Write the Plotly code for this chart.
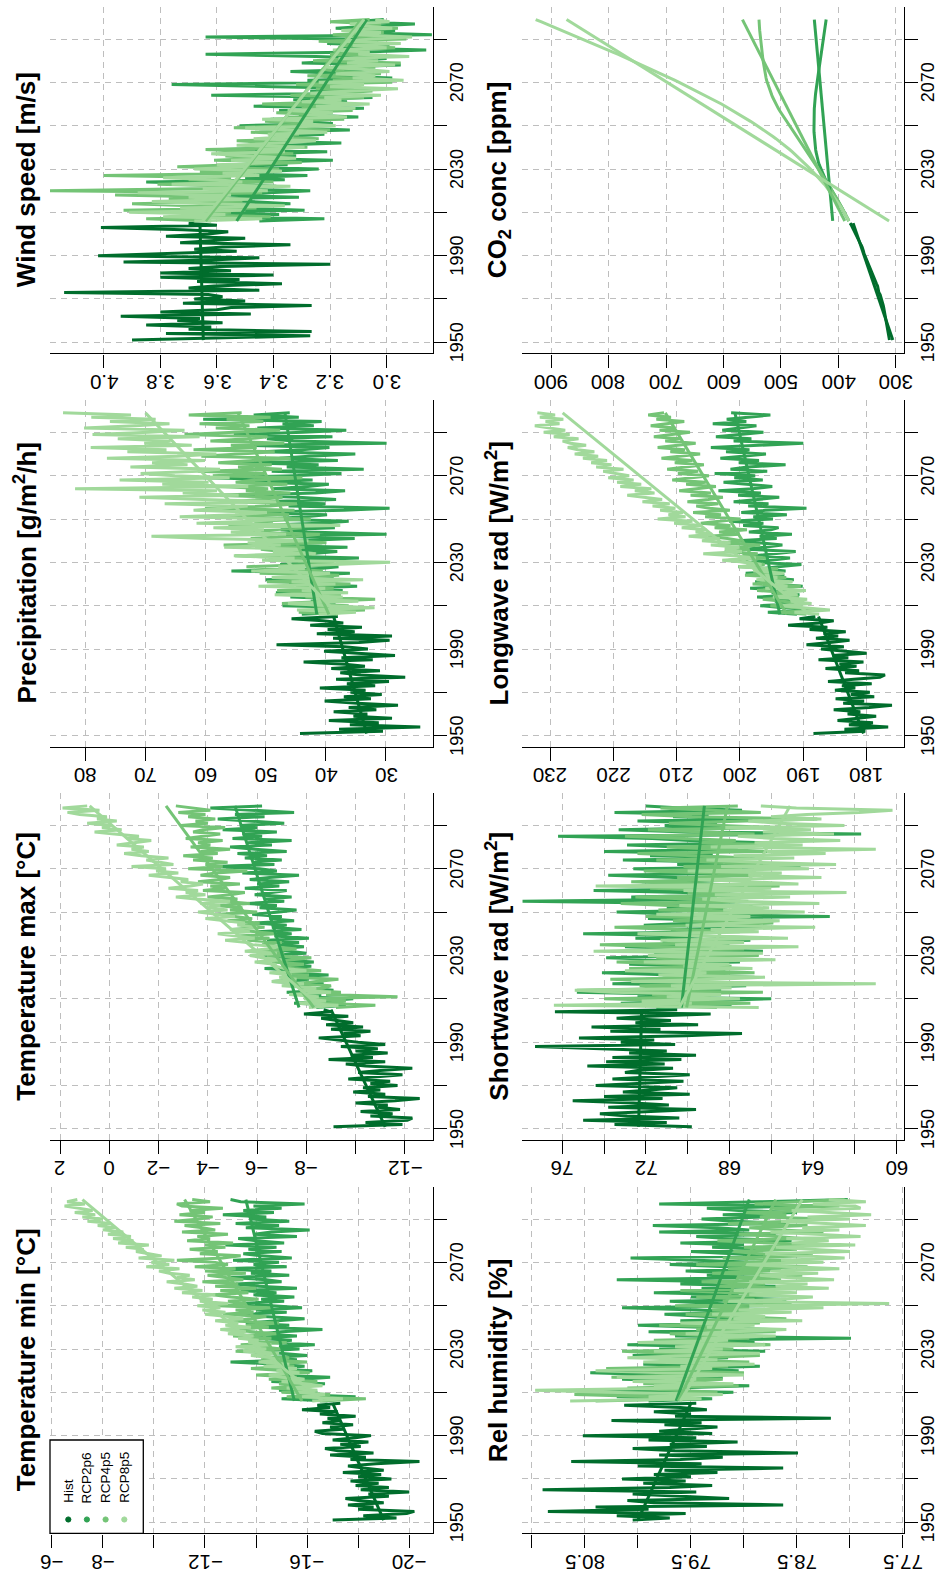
import plotly.graph_objects as go

W, H = 940, 1577
FONT = "Liberation Sans, Arial, Helvetica, sans-serif"

HIST_YEARS = list(range(1951, 2006))
RCP_YEARS = list(range(2006, 2100))
SCENARIOS = ["Hist", "RCP2p6", "RCP4p5", "RCP8p5"]
COLORS = ["#006D2C", "#31A354", "#74C476", "#A1D99B"]

YEAR_TICKS = [1950, 1970, 1990, 2010, 2030, 2050, 2070, 2090]
YEAR_LABELS = ["1950", "", "1990", "", "2030", "", "2070", ""]

# ---------------- Temperature min ----------------
tmin_hist = [-17.0, -19.5, -18.2, -19.9, -20.2, -18.0, -18.6, -17.6, -19.0, -18.0,
             -17.5, -19.2, -18.4, -20.0, -18.1, -19.2, -17.9, -18.8, -17.7, -19.3,
             -18.0, -18.9, -17.4, -19.0, -18.2, -17.6, -18.7, -20.4, -17.7, -18.3,
             -16.9, -18.6, -17.2, -16.7, -18.1, -17.3, -18.4, -17.0, -17.9, -18.5,
             -16.6, -16.3, -17.4, -16.9, -17.8, -16.6, -17.3, -16.8, -17.9, -16.5,
             -17.2, -15.8, -16.9, -16.4, -17.3]
tmin_rcp26 = [-16.8, -15.0, -17.9, -15.6, -16.4, -14.9, -16.0, -15.2, -16.7, -14.6,
              -15.8, -16.9, -14.7, -15.5, -16.2, -14.4, -15.9, -14.8, -13.0, -15.6,
              -14.3, -16.0, -15.1, -14.0, -15.7, -14.9, -16.3, -14.5, -15.4, -13.8,
              -15.6, -14.2, -15.0, -16.6, -14.1, -15.3, -13.6, -14.8, -15.9, -14.3,
              -13.5, -15.2, -14.0, -15.8, -14.6, -13.3, -15.1, -14.2, -15.5, -13.9,
              -14.8, -13.4, -15.6, -14.1, -13.2, -15.0, -14.4, -12.9, -15.3, -13.8,
              -14.6, -12.6, -15.2, -13.9, -14.9, -13.1, -15.4, -14.2, -13.5, -15.0,
              -13.7, -14.8, -12.8, -15.1, -14.0, -13.3, -15.6, -13.9, -14.6, -16.1,
              -13.6, -14.9, -13.2, -15.3, -13.8, -14.4, -12.7, -14.7, -13.5, -15.0,
              -13.9, -15.9, -13.4, -13.0]
tmin_rcp45 = [-16.5, -18.3, -15.2, -16.9, -15.0, -16.2, -14.6, -15.8, -14.9, -16.4,
              -14.5, -15.6, -14.0, -16.1, -15.2, -13.8, -15.5, -14.4, -16.0, -14.2,
              -15.3, -13.9, -14.8, -13.2, -15.0, -14.1, -13.4, -15.2, -13.7, -14.6,
              -13.1, -14.8, -13.9, -12.8, -14.5, -13.6, -14.9, -12.9, -13.8, -14.4,
              -12.7, -13.9, -13.2, -14.6, -12.5, -13.6, -12.9, -14.1, -13.0, -12.3,
              -13.7, -12.6, -14.0, -12.4, -13.3, -11.9, -13.5, -12.8, -12.1, -13.6,
              -12.0, -13.2, -11.6, -12.9, -12.4, -10.9, -12.7, -13.4, -11.8, -12.5,
              -11.4, -12.8, -12.0, -13.1, -11.3, -12.2, -11.7, -12.9, -11.1, -12.4,
              -11.9, -11.2, -12.6, -10.8, -11.8, -12.3, -11.0, -12.0, -11.4, -12.7,
              -11.1, -10.9, -12.2, -11.5]
tmin_rcp85 = [-16.2, -17.4, -15.8, -16.7, -15.5, -16.4, -15.2, -16.6, -15.9, -15.0,
              -15.9, -15.0, -14.5, -15.7, -14.8, -15.6, -14.3, -15.3, -14.1, -14.9,
              -14.6, -13.8, -14.9, -13.5, -14.4, -13.2, -14.6, -13.7, -14.1, -13.3,
              -13.9, -12.9, -13.6, -12.6, -13.8, -12.8, -13.3, -12.4, -13.5, -12.9,
              -12.0, -12.8, -11.9, -12.6, -11.7, -12.9, -11.8, -12.3, -11.5, -12.4,
              -11.1, -11.9, -10.8, -11.7, -11.2, -10.5, -11.6, -10.9, -11.4, -10.6,
              -10.2, -11.0, -9.7, -10.6, -9.9, -10.8, -9.4, -10.3, -9.8, -9.3,
              -9.6, -8.9, -9.8, -8.6, -9.2, -8.4, -9.1, -8.2, -8.8, -8.0,
              -8.5, -7.8, -8.3, -7.4, -8.0, -7.2, -7.7, -6.9, -7.6, -7.1,
              -6.5, -7.3, -6.6, -7.0]
tmin_trend_start = [-19.0, -15.5, -15.8, -16.6]
tmin_trend_end = [-17.0, -13.6, -11.2, -7.2]
tmin_ticks = [-6, -8, -10, -12, -14, -16, -18, -20]
tmin_labels = ["\u22126", "\u22128", "", "\u221212", "", "\u221216", "", "\u221220"]

# ---------------- Temperature max ----------------
tmax_hist = [-9.1, -11.9, -10.4, -12.1, -12.3, -10.6, -11.5, -10.2, -11.8, -10.9,
             -11.3, -10.0, -11.6, -12.6, -10.5, -11.2, -9.9, -11.0, -10.3, -11.7,
             -10.6, -11.4, -9.7, -10.8, -11.9, -10.1, -11.0, -12.3, -10.4, -9.6,
             -11.2, -8.9, -10.7, -9.8, -11.3, -10.0, -10.9, -9.4, -11.2, -10.1,
             -9.2, -8.5, -10.2, -9.5, -10.6, -9.0, -10.3, -8.8, -9.9, -9.3,
             -8.6, -9.7, -7.9, -9.0, -8.7]
tmax_rcp26 = [-8.4, -9.6, -7.5, -8.8, -9.9, -7.9, -8.6, -7.2, -9.1, -8.0,
              -7.4, -8.7, -6.6, -8.1, -7.0, -8.9, -6.9, -7.8, -6.3, -8.2,
              -7.1, -8.3, -6.8, -7.6, -6.2, -8.0, -7.3, -6.5, -7.9, -6.9,
              -7.7, -6.4, -8.1, -6.7, -7.4, -6.0, -7.8, -6.6, -7.2, -5.9,
              -7.5, -6.5, -7.0, -5.8, -6.9, -7.6, -6.1, -6.8, -5.6, -7.1,
              -6.3, -7.4, -5.9, -6.6, -7.2, -5.5, -6.9, -6.0, -7.3, -5.7,
              -6.5, -7.7, -5.4, -6.8, -6.1, -4.2, -6.7, -5.8, -7.0, -5.5,
              -6.4, -5.2, -7.2, -5.9, -4.9, -6.6, -5.6, -7.4, -5.0, -6.2,
              -5.4, -6.8, -4.6, -6.0, -5.3, -7.1, -5.7, -4.4, -6.3, -5.1,
              -7.5, -5.8, -4.1, -6.2]
tmax_rcp45 = [-9.2, -10.8, -8.5, -9.6, -8.0, -11.7, -8.8, -9.4, -7.9, -8.7,
              -9.0, -7.6, -8.4, -9.3, -7.3, -8.1, -6.8, -8.6, -7.5, -7.0,
              -7.9, -6.6, -7.4, -8.2, -6.4, -7.1, -5.9, -7.6, -6.7, -6.2,
              -7.0, -5.6, -6.5, -5.2, -6.8, -5.9, -4.9, -6.3, -5.5, -6.1,
              -4.8, -5.8, -5.1, -4.4, -6.0, -4.9, -5.4, -4.3, -5.7, -4.6,
              -5.2, -4.0, -4.9, -5.5, -3.8, -4.7, -4.1, -5.3, -3.6, -4.5,
              -4.9, -3.7, -4.3, -5.6, -3.2, -4.6, -3.9, -4.8, -3.4, -4.2,
              -3.0, -4.4, -3.7, -4.9, -3.3, -4.1, -3.6, -4.6, -3.1, -3.9,
              -4.5, -3.4, -3.8, -4.7, -2.9, -4.0, -3.5, -4.3, -3.2, -3.9,
              -2.8, -4.1, -3.3, -2.7]
tmax_rcp85 = [-8.1, -9.3, -7.6, -8.8, -7.9, -8.5, -7.3, -9.0, -7.8, -8.4,
              -7.0, -7.9, -6.6, -7.6, -6.9, -7.4, -6.5, -8.0, -7.1, -6.8,
              -6.7, -5.9, -7.0, -6.2, -5.7, -6.8, -5.5, -6.4, -6.9, -5.8,
              -5.6, -4.7, -5.9, -5.0, -4.4, -5.7, -4.9, -6.0, -5.2, -5.5,
              -4.6, -3.9, -5.1, -4.2, -3.6, -4.8, -4.0, -4.5, -3.7, -4.9,
              -3.5, -2.7, -3.9, -3.1, -3.6, -2.4, -3.3, -3.8, -2.9, -3.2,
              -2.5, -1.6, -2.8, -1.9, -2.3, -0.9, -2.6, -2.0, -1.5, -2.4,
              -1.3, -0.6, -1.6, -0.9, -1.4, -0.3, -1.1, -1.7, -0.7, -1.2,
              -0.2, 0.6, -0.5, 0.3, -0.1, 0.9, -0.3, 0.5, 0.1, 1.2,
              1.7, 0.4, 1.9, 0.9]
tmax_trend_start = [-11.2, -7.7, -8.3, -8.6]
tmax_trend_end = [-9.0, -5.1, -2.3, 0.8]
tmax_ticks = [2, 0, -2, -4, -6, -8, -10, -12]
tmax_labels = ["2", "0", "\u22122", "\u22124", "\u22126", "\u22128", "", "\u221212"]

# ---------------- Precipitation ----------------
prec_hist = [44.3, 30.5, 37.8, 24.3, 36.0, 31.2, 39.5, 29.0, 35.4, 33.1,
             38.7, 31.6, 36.2, 28.0, 34.8, 40.2, 32.5, 37.0, 30.7, 35.9,
             33.4, 41.0, 31.8, 36.5, 29.5, 38.3, 26.8, 34.2, 37.6, 31.0,
             39.1, 33.5, 36.8, 43.7, 32.2, 37.4, 28.5, 35.6, 40.3, 33.0,
             36.9, 48.2, 34.5, 29.4, 38.8, 29.0, 41.5, 35.2, 39.7, 34.0,
             42.6, 37.1, 40.5, 45.7, 38.0]
prec_rcp26 = [44.0, 36.5, 40.8, 33.9, 47.2, 38.4, 42.5, 35.7, 45.9, 39.0,
              48.3, 37.2, 43.6, 34.8, 46.1, 40.3, 50.0, 38.7, 44.2, 36.0,
              55.7, 41.4, 37.9, 47.6, 39.2, 45.0, 34.5, 49.1, 42.7, 38.1,
              46.8, 36.4, 51.2, 40.6, 44.9, 35.2, 48.0, 29.9, 43.1, 47.5,
              38.5, 52.3, 41.0, 36.2, 49.4, 43.5, 39.8, 53.1, 37.0, 29.4,
              46.2, 40.1, 50.7, 38.3, 44.6, 55.0, 41.7, 36.8, 48.9, 43.0,
              39.5, 51.8, 42.2, 60.4, 45.3, 37.4, 49.0, 33.7, 46.5, 41.2,
              54.0, 38.0, 47.7, 42.8, 35.1, 50.5, 44.0, 39.4, 52.6, 29.9,
              45.4, 49.8, 38.9, 55.3, 43.8, 36.6, 51.4, 42.0, 47.2, 40.7,
              60.4, 44.5, 52.0, 46.0]
prec_rcp45 = [38.0, 44.5, 33.5, 41.9, 36.2, 47.3, 39.8, 31.8, 43.4, 37.5,
              42.6, 48.1, 38.7, 45.0, 35.9, 49.8, 41.3, 44.7, 37.8, 51.0,
              40.5, 46.3, 53.2, 42.1, 38.6, 49.5, 44.0, 55.1, 41.6, 47.4,
              50.8, 43.2, 57.0, 39.9, 46.7, 52.5, 44.4, 41.0, 54.3, 47.9,
              43.6, 56.2, 48.8, 51.9, 42.5, 58.0, 46.1, 53.7, 45.2, 60.1,
              49.3, 44.8, 55.6, 51.0, 47.2, 59.4, 45.9, 53.3, 49.6, 57.5,
              46.4, 55.0, 51.7, 43.9, 58.8, 50.2, 61.3, 47.3, 54.6, 49.0,
              57.9, 52.1, 45.6, 60.7, 53.4, 48.5, 62.0, 51.5, 55.8, 46.9,
              59.2, 53.0, 49.7, 63.5, 55.2, 47.6, 58.3, 52.7, 61.0, 50.4,
              56.5, 49.2, 62.8, 54.0]
prec_rcp85 = [41.2, 35.0, 44.8, 31.9, 39.5, 46.3, 34.6, 42.0, 37.2, 48.5,
              36.3, 44.0, 40.1, 51.2, 38.4, 45.7, 33.8, 49.0, 42.6, 39.3,
              52.4, 43.5, 47.9, 38.8, 29.3, 50.6, 45.2, 55.3, 41.7, 48.8,
              44.1, 56.9, 47.5, 53.0, 42.9, 60.2, 69.0, 46.6, 55.8, 50.3,
              58.7, 37.6, 61.5, 52.6, 47.0, 64.3, 55.1, 49.8, 62.0, 57.4,
              53.0, 66.8, 48.2, 60.5, 71.0, 54.5, 63.8, 58.1, 81.7, 52.9,
              67.2, 59.5, 74.3, 56.0, 65.1, 70.8, 61.2, 57.6, 72.5, 63.0,
              68.9, 60.1, 76.4, 64.7, 58.2, 73.0, 66.5, 79.1, 62.3, 70.2,
              65.8, 74.6, 61.0, 78.8, 69.4, 63.5, 80.2, 71.7, 66.0, 75.9,
              68.3, 79.0, 72.4, 83.7]
prec_trend_start = [33.2, 41.5, 39.5, 38.0]
prec_trend_end = [38.7, 46.8, 54.6, 70.0]
prec_ticks = [80, 70, 60, 50, 40, 30]
prec_labels = ["80", "70", "60", "50", "40", "30"]

# ---------------- Wind speed ----------------
wind_hist = [3.90, 3.55, 3.27, 3.78, 3.265, 3.70, 3.62, 3.85, 3.58, 3.74,
             3.66, 3.94, 3.48, 3.80, 3.60, 3.55, 3.265, 3.72, 3.50, 3.68,
             3.58, 3.63, 4.14, 3.45, 3.70, 3.61, 3.37, 3.67, 3.52, 3.80,
             3.40, 3.80, 3.55, 3.70, 3.59, 3.20, 3.93, 3.62, 3.45, 4.02,
             3.75, 3.53, 3.68, 3.58, 3.34, 3.73, 3.61, 3.50, 3.78, 3.63,
             3.56, 3.72, 4.01, 3.60, 3.70]
wind_rcp26 = [3.45, 3.22, 3.61, 3.38, 3.70, 3.29, 3.52, 3.66, 3.34, 3.48,
              3.75, 3.31, 3.58, 3.42, 3.27, 3.64, 3.39, 3.55, 3.85, 3.36,
              3.50, 3.28, 3.62, 3.41, 3.24, 3.57, 3.35, 3.46, 3.19, 3.53,
              3.32, 3.44, 3.21, 3.58, 3.30, 3.40, 3.16, 3.49, 3.27, 3.36,
              3.22, 3.45, 3.13, 3.34, 3.52, 3.19, 3.29, 3.41, 3.10, 3.31,
              3.24, 3.38, 3.08, 3.47, 3.20, 3.14, 3.33, 3.05, 3.62, 3.18,
              3.27, 3.02, 3.40, 3.76, 3.15, 3.28, 2.98, 3.22, 3.11, 3.34,
              3.06, 3.19, 2.95, 3.30, 3.12, 3.00, 3.25, 3.64, 3.08, 2.86,
              3.17, 2.99, 3.21, 3.03, 3.14, 3.64, 2.84, 3.10, 2.97, 3.18,
              3.05, 2.90, 3.12, 3.01]
wind_rcp45 = [3.62, 3.85, 3.41, 3.72, 3.55, 3.93, 3.46, 3.68, 3.90, 3.51,
              3.77, 3.58, 3.96, 3.44, 4.19, 3.63, 3.52, 3.81, 3.40, 3.70,
              3.55, 4.00, 3.47, 3.66, 3.38, 3.74, 3.52, 3.30, 3.61, 3.43,
              3.57, 3.33, 3.49, 3.64, 3.28, 3.45, 3.36, 3.53, 3.24, 3.40,
              3.31, 3.48, 3.20, 3.54, 3.37, 3.26, 3.43, 3.15, 3.35, 3.22,
              3.39, 3.12, 3.30, 3.21, 3.44, 3.16, 3.27, 3.08, 3.34, 3.18,
              3.05, 3.25, 3.13, 3.32, 2.98, 3.19, 3.09, 3.28, 3.02, 3.15,
              3.23, 3.04, 3.17, 2.95, 3.26, 3.10, 3.00, 3.20, 3.07, 3.13,
              2.97, 3.16, 3.04, 3.24, 2.93, 3.09, 3.19, 3.01, 3.14, 2.96,
              3.11, 3.02, 3.20, 3.06]
wind_rcp85 = [3.68, 3.44, 3.79, 3.57, 3.91, 3.50, 3.73, 3.36, 3.64, 3.83,
              3.48, 3.70, 3.55, 3.88, 3.42, 3.65, 3.34, 3.76, 3.51, 3.60,
              3.79, 3.45, 3.58, 3.37, 3.68, 3.49, 3.60, 3.40, 3.55, 3.32,
              3.50, 3.62, 3.36, 3.45, 3.29, 3.53, 3.38, 3.25, 3.47, 3.33,
              3.42, 3.21, 3.36, 3.50, 3.18, 3.31, 3.26, 3.44, 3.14, 3.29,
              3.19, 3.35, 3.11, 3.25, 3.06, 3.30, 3.16, 3.22, 3.02, 3.27,
              3.13, 2.96, 3.20, 3.08, 3.24, 2.94, 3.12, 3.04, 3.18, 2.99,
              3.09, 3.21, 2.97, 3.14, 3.03, 3.17, 2.92, 3.10, 3.06, 3.19,
              3.00, 3.12, 2.95, 3.15, 3.05, 2.91, 3.11, 3.02, 3.16, 2.98,
              3.08, 3.13, 2.99, 3.04]
wind_trend_start = [3.648, 3.53, 3.64, 3.65]
wind_trend_end = [3.66, 3.07, 3.09, 3.08]
wind_ticks = [4.0, 3.8, 3.6, 3.4, 3.2, 3.0]
wind_labels = ["4.0", "3.8", "3.6", "3.4", "3.2", "3.0"]

# ---------------- CO2 concentration ----------------
co2_hist = [311.3, 311.9, 312.4, 313.0, 313.6, 314.2, 314.9, 315.3, 315.8, 316.9,
            317.6, 318.4, 318.9, 319.5, 320.0, 321.3, 322.1, 323.1, 324.6, 325.7,
            326.3, 327.5, 329.7, 330.2, 331.1, 332.0, 333.8, 335.4, 336.8, 338.7,
            340.1, 341.1, 342.8, 344.4, 345.9, 347.2, 349.0, 351.4, 352.9, 354.2,
            355.6, 356.4, 357.1, 358.8, 360.8, 362.6, 363.7, 366.7, 368.4, 369.6,
            371.1, 373.2, 375.8, 377.5, 379.8]
co2_rcp26 = [381.9, 383.7, 385.5, 387.3, 389.1, 391.4, 393.7, 396.0, 398.3, 400.6,
             402.9, 405.2, 407.5, 409.8, 412.1, 414.2, 416.3, 418.3, 420.3, 422.2,
             424.0, 425.8, 427.5, 429.2, 430.8, 432.2, 433.5, 434.7, 435.8, 436.8,
             437.7, 438.4, 439.1, 439.7, 440.2, 440.7, 441.1, 441.5, 441.8, 442.1,
             442.3, 442.5, 442.6, 442.7, 442.7, 442.7, 442.6, 442.5, 442.4, 442.3,
             442.2, 442.1, 442.0, 441.9, 441.7, 441.3, 440.9, 440.5, 440.1, 439.7,
             439.3, 438.8, 438.4, 437.9, 437.5, 436.9, 436.3, 435.7, 435.1, 434.5,
             433.9, 433.4, 432.8, 432.2, 431.6, 431.0, 430.5, 429.9, 429.4, 428.8,
             428.2, 427.7, 427.1, 426.6, 426.0, 425.5, 425.0, 424.5, 424.0, 423.4,
             422.9, 422.4, 421.9, 421.4]
co2_rcp45 = [381.9, 383.8, 385.6, 387.5, 389.3, 391.4, 393.5, 395.6, 397.7, 399.9,
             402.1, 404.3, 406.5, 408.8, 411.1, 413.4, 415.7, 418.1, 420.4, 422.8,
             425.2, 427.6, 430.0, 432.5, 435.0, 437.5, 440.1, 442.7, 445.3, 447.9,
             450.5, 453.1, 455.6, 458.2, 460.8, 463.4, 466.0, 468.6, 471.2, 473.7,
             476.3, 478.9, 481.4, 484.0, 486.5, 488.9, 491.3, 493.6, 495.9, 498.1,
             500.3, 502.5, 504.7, 506.8, 508.9, 510.7, 512.5, 514.2, 515.8, 517.3,
             518.8, 520.2, 521.6, 523.0, 524.3, 525.1, 525.9, 526.7, 527.4, 528.1,
             528.8, 529.4, 530.0, 530.6, 531.1, 531.6, 532.1, 532.6, 533.1, 533.6,
             534.1, 534.5, 535.0, 535.5, 535.9, 536.2, 536.5, 536.8, 537.0, 537.3,
             537.6, 537.8, 538.0, 538.2]
co2_rcp85 = [381.9, 383.8, 385.6, 387.4, 389.3, 391.8, 394.3, 396.9, 399.5, 402.1,
             404.7, 407.4, 410.2, 413.0, 415.8, 418.7, 421.7, 424.8, 428.0, 431.2,
             434.5, 437.9, 441.4, 445.1, 448.8, 452.6, 456.4, 460.3, 464.3, 468.3,
             472.4, 476.5, 480.7, 485.0, 489.4, 494.1, 498.9, 503.8, 508.8, 514.0,
             519.2, 524.6, 530.0, 535.6, 541.2, 547.1, 553.0, 559.0, 565.1, 571.4,
             577.6, 584.0, 590.4, 596.9, 603.5, 610.6, 617.8, 625.0, 632.3, 639.7,
             647.1, 654.6, 662.1, 669.6, 677.1, 685.1, 693.1, 701.1, 709.2, 717.3,
             725.4, 733.5, 741.7, 749.9, 758.2, 766.7, 775.3, 783.9, 792.5, 801.2,
             809.9, 818.6, 827.3, 836.0, 844.8, 853.8, 862.9, 872.0, 881.1, 890.2,
             899.3, 908.4, 917.6, 926.7]
co2_trend_start = [305.5, 410.0, 389.0, 312.0]
co2_trend_end = [374.5, 442.0, 567.0, 873.0]
co2_ticks = [900, 800, 700, 600, 500, 400, 300]
co2_labels = ["900", "800", "700", "600", "500", "400", "300"]

# ---------------- Longwave radiation ----------------
lw_hist = [188.4, 180.2, 183.5, 176.6, 182.8, 179.0, 184.6, 181.3, 178.5, 183.0,
           181.0, 185.2, 179.6, 176.0, 183.7, 180.4, 184.9, 178.8, 182.5, 179.5,
           185.0, 181.8, 183.9, 179.2, 186.1, 182.0, 177.9, 177.1, 183.4, 181.2,
           186.5, 181.6, 184.3, 180.5, 187.6, 182.9, 185.4, 180.0, 184.0, 187.2,
           183.6, 189.5, 185.8, 182.7, 188.0, 184.5, 186.8, 183.3, 189.0, 186.2,
           192.4, 187.5, 185.2, 190.6, 188.1]
lw_rcp26 = [191.0, 195.6, 187.5, 193.2, 196.8, 189.9, 194.5, 191.7, 197.3, 190.6,
            195.0, 192.3, 198.4, 190.1, 194.9, 197.6, 191.5, 196.2, 193.0, 199.1,
            192.8, 196.5, 194.0, 190.3, 198.2, 195.4, 192.1, 197.8, 194.6, 191.2,
            199.0, 195.8, 193.3, 197.0, 200.4, 194.2, 196.9, 191.8, 198.6, 195.1,
            193.9, 199.5, 196.3, 201.7, 194.8, 197.9, 192.6, 199.8, 196.0, 189.5,
            198.7, 195.5, 201.0, 197.2, 193.8, 200.3, 196.7, 203.4, 198.0, 194.9,
            199.4, 202.6, 196.4, 200.9, 197.6, 204.0, 195.7, 201.5, 198.8, 192.8,
            200.2, 197.0, 203.1, 199.3, 195.9, 202.2, 198.5, 204.6, 196.6, 190.0,
            201.0, 198.2, 203.8, 199.7, 196.3, 202.8, 200.0, 197.4, 204.3, 199.0,
            202.1, 198.6, 195.2, 201.4]
lw_rcp45 = [189.5, 193.8, 187.0, 191.6, 195.2, 189.8, 193.5, 196.4, 190.7, 194.6,
            192.0, 197.3, 193.5, 190.4, 198.0, 194.3, 196.8, 192.7, 199.2, 195.5,
            197.4, 194.0, 200.3, 196.1, 198.9, 201.8, 195.9, 199.6, 197.2, 202.4,
            198.5, 201.2, 196.8, 203.5, 199.8, 202.0, 205.1, 200.1, 203.3, 198.9,
            204.0, 201.5, 206.2, 202.8, 199.9, 205.5, 203.0, 207.4, 201.6, 204.8,
            206.9, 203.4, 208.3, 205.0, 202.7, 207.8, 204.6, 209.6, 206.1, 203.8,
            208.5, 205.4, 210.7, 207.2, 204.9, 209.8, 206.6, 211.5, 208.0, 205.7,
            210.3, 207.5, 212.4, 209.1, 206.3, 211.0, 208.7, 213.0, 210.1, 207.0,
            211.8, 209.4, 213.6, 210.6, 207.9, 212.7, 210.2, 214.1, 211.3, 208.8,
            213.2, 210.9, 214.5, 212.0]
lw_rcp85 = [187.5, 191.4, 185.8, 190.2, 193.6, 188.7, 192.0, 189.4, 194.8, 190.9,
            193.2, 189.6, 196.0, 192.5, 195.3, 191.7, 197.4, 194.1, 196.8, 193.0,
            197.9, 195.4, 200.2, 196.6, 199.1, 202.8, 197.5, 201.0, 205.8, 199.7,
            202.4, 200.1, 204.6, 201.5, 206.0, 203.2, 208.1, 204.4, 207.0, 205.3,
            209.2, 206.1, 210.4, 207.5, 213.0, 208.6, 211.3, 209.0, 212.6, 210.2,
            213.8, 211.1, 215.4, 212.3, 214.7, 217.8, 213.5, 216.6, 214.0, 218.9,
            215.6, 219.4, 216.8, 220.8, 217.5, 219.9, 221.6, 218.4, 222.7, 220.3,
            223.5, 221.0, 224.8, 222.4, 226.1, 223.0, 225.6, 227.2, 224.3, 226.8,
            228.0, 225.5, 229.4, 226.9, 231.0, 227.6, 229.8, 232.4, 228.5, 230.7,
            227.9, 231.6, 229.2, 232.0]
lw_trend_start = [180.5, 193.7, 192.6, 189.0]
lw_trend_end = [187.6, 200.8, 211.8, 228.0]
lw_ticks = [230, 220, 210, 200, 190, 180]
lw_labels = ["230", "220", "210", "200", "190", "180"]

# ---------------- Shortwave radiation ----------------
sw_hist = [69.8, 73.5, 71.0, 75.0, 70.4, 72.9, 74.2, 71.5, 69.6, 73.8,
           70.9, 72.6, 75.5, 71.2, 74.0, 69.9, 73.1, 71.8, 70.5, 74.4,
           72.0, 70.2, 73.6, 71.4, 69.9, 73.0, 72.4, 70.7, 74.8, 71.1,
           73.9, 70.3, 73.6, 69.6, 72.8, 71.0, 74.5, 77.3, 70.6, 73.2,
           71.6, 75.2, 70.1, 67.4, 73.7, 71.3, 74.6, 69.5, 72.5, 70.8,
           73.4, 71.9, 68.9, 76.35, 70.5]
sw_rcp26 = [71.5, 67.9, 73.2, 69.0, 66.0, 72.4, 70.1, 75.3, 68.4, 71.0,
            67.2, 73.6, 69.5, 72.0, 66.8, 70.7, 74.1, 68.2, 71.4, 69.0,
            72.8, 67.5, 70.3, 73.9, 68.7, 71.6, 66.4, 70.0, 73.0, 68.0,
            71.2, 67.0, 72.5, 69.3, 75.0, 68.5, 70.8, 66.2, 72.1, 69.6,
            67.7, 71.9, 63.2, 70.4, 73.4, 68.1, 71.0, 66.9, 69.8, 77.9,
            68.6, 72.7, 67.3, 70.2, 74.5, 66.5, 71.3, 68.9, 72.2, 67.8,
            70.9, 73.8, 67.1, 69.7, 72.6, 64.6, 70.5, 68.3, 73.1, 66.7,
            71.8, 68.8, 74.0, 67.6, 70.6, 72.9, 66.3, 69.9, 71.7, 76.2,
            61.7, 70.0, 73.3, 67.9, 71.1, 68.6, 72.4, 66.9, 70.7, 69.0,
            73.5, 67.4, 70.3, 72.0]
sw_rcp45 = [68.6, 72.9, 67.0, 70.8, 74.0, 68.9, 71.7, 66.4, 75.3, 69.4,
            72.3, 67.6, 70.9, 73.7, 68.1, 71.2, 66.8, 70.3, 72.8, 67.9,
            70.6, 73.4, 68.3, 71.5, 66.6, 69.8, 72.6, 67.3, 70.4, 74.2,
            68.0, 71.0, 66.1, 69.5, 72.3, 67.5, 70.1, 73.5, 68.7, 65.9,
            70.7, 67.9, 72.0, 69.1, 66.4, 71.4, 68.2, 70.9, 73.2, 67.1,
            69.6, 72.5, 66.9, 70.0, 67.8, 71.8, 65.6, 69.3, 72.7, 68.0,
            70.5, 66.7, 69.0, 72.1, 67.4, 70.2, 64.8, 68.6, 71.5, 67.0,
            69.7, 72.4, 66.2, 68.9, 71.0, 65.4, 69.4, 67.7, 70.6, 73.0,
            66.8, 69.2, 71.9, 65.9, 68.5, 70.9, 67.2, 63.8, 69.8, 72.2,
            66.5, 68.7, 71.3, 67.6]
sw_rcp85 = [66.6, 76.4, 69.8, 72.2, 67.5, 71.0, 68.4, 73.6, 75.4, 67.9,
            70.8, 61.0, 72.7, 68.6, 66.3, 71.4, 69.1, 73.0, 66.9, 70.2,
            68.0, 72.1, 65.8, 69.5, 71.9, 66.4, 74.5, 68.8, 64.7, 70.6,
            67.3, 71.3, 65.2, 69.0, 72.4, 66.6, 68.9, 63.9, 70.1, 67.5,
            65.6, 69.8, 67.0, 71.5, 64.4, 68.3, 66.1, 70.4, 63.7, 67.9,
            69.3, 65.1, 68.7, 62.4, 70.2, 66.0, 74.4, 64.7, 67.6, 69.5,
            63.6, 67.1, 65.5, 70.0, 64.2, 68.4, 62.9, 66.7, 69.1, 64.9,
            67.8, 63.4, 66.2, 61.0, 68.9, 64.5, 66.8, 62.7, 65.9, 67.6,
            63.0, 66.4, 64.1, 68.2, 62.5, 65.7, 67.1, 63.6, 66.0, 64.3,
            61.8, 60.2, 64.8, 66.5]
sw_trend_start = [72.35, 70.3, 70.05, 70.4]
sw_trend_end = [72.2, 69.2, 68.1, 65.1]
sw_ticks = [76, 74, 72, 70, 68, 66, 64, 62, 60]
sw_labels = ["76", "", "72", "", "68", "", "64", "", "60"]

# ---------------- Relative humidity ----------------
rh_hist = [80.05, 79.70, 80.20, 79.55, 80.85, 79.90, 80.40, 78.63, 79.85, 80.10,
           79.14, 79.60, 80.05, 79.45, 80.90, 79.70, 79.30, 79.95, 79.55, 80.15,
           79.50, 79.85, 79.25, 79.75, 78.63, 80.00, 79.40, 80.63, 79.60, 79.20,
           79.80, 78.49, 79.65, 80.05, 79.35, 79.70, 79.06, 79.90, 79.45, 80.52,
           79.30, 79.80, 79.55, 79.25, 79.75, 79.40, 80.25, 78.18, 79.65, 79.50,
           79.85, 79.35, 79.60, 80.13, 79.45]
rh_rcp26 = [79.90, 79.30, 80.20, 79.55, 79.10, 80.35, 79.70, 78.95, 79.85, 79.40,
            80.15, 79.20, 79.75, 80.45, 79.05, 79.60, 78.85, 79.95, 79.35, 79.70,
            79.15, 80.05, 79.50, 78.80, 79.80, 79.25, 80.10, 78.90, 79.55, 77.99,
            79.65, 79.10, 79.90, 78.75, 79.40, 80.00, 79.05, 79.60, 78.70, 79.35,
            79.75, 78.95, 79.45, 80.15, 78.80, 79.30, 79.70, 78.60, 79.50, 79.05,
            79.85, 78.90, 79.40, 78.70, 79.60, 79.15, 80.20, 78.85, 79.35, 79.00,
            79.55, 78.65, 79.25, 79.70, 78.90, 79.40, 80.07, 78.75, 79.20, 79.50,
            78.80, 79.30, 79.00, 79.60, 78.55, 79.15, 79.45, 78.70, 79.80, 78.95,
            79.25, 79.86, 78.60, 79.10, 79.40, 78.75, 79.20, 78.50, 79.05, 79.35,
            78.40, 79.80, 78.85, 78.02]
rh_rcp45 = [80.40, 79.45, 79.85, 80.60, 79.25, 79.75, 80.10, 79.05, 79.95, 79.50,
            79.20, 80.25, 79.60, 79.00, 79.90, 80.30, 79.15, 79.55, 78.95, 79.80,
            79.40, 78.85, 79.75, 80.15, 79.10, 79.50, 78.75, 79.30, 79.85, 78.95,
            79.25, 79.70, 78.70, 79.45, 79.05, 79.80, 78.85, 79.35, 78.60, 79.15,
            79.55, 78.75, 79.30, 78.95, 79.65, 78.55, 79.20, 78.90, 79.45, 78.70,
            79.10, 79.60, 78.50, 79.25, 78.80, 79.40, 78.65, 79.05, 78.45, 79.30,
            78.75, 79.15, 78.40, 79.45, 78.90, 78.55, 79.20, 78.35, 78.85, 79.10,
            78.50, 79.00, 78.30, 78.80, 79.25, 78.45, 78.70, 79.05, 78.25, 78.65,
            78.95, 78.40, 79.15, 78.55, 78.20, 78.85, 78.60, 79.00, 78.30, 78.75,
            78.10, 78.90, 78.45, 78.05]
rh_rcp85 = [80.64, 79.40, 79.90, 79.20, 80.30, 80.97, 79.55, 79.85, 79.10, 80.05,
            79.45, 80.20, 79.00, 79.70, 80.40, 79.30, 79.60, 78.90, 79.95, 79.25,
            80.10, 79.50, 78.85, 79.85, 79.20, 79.65, 78.80, 80.00, 79.15, 79.40,
            78.70, 79.55, 79.00, 78.60, 79.35, 78.90, 79.60, 78.45, 79.10, 78.80,
            79.30, 78.55, 79.05, 78.25, 78.95, 77.63, 79.15, 78.65, 78.35, 78.95,
            78.50, 79.10, 78.20, 78.70, 78.40, 78.95, 78.15, 78.60, 78.85, 78.30,
            78.75, 78.10, 78.55, 79.00, 78.25, 78.65, 78.05, 78.45, 78.80, 78.00,
            78.40, 78.70, 77.95, 78.55, 78.20, 78.60, 77.90, 78.35, 78.75, 78.10,
            78.45, 77.85, 78.30, 78.65, 78.00, 78.40, 77.80, 78.25, 78.55, 77.90,
            77.95, 78.35, 77.85, 78.20]
rh_trend_start = [80.0, 79.64, 79.62, 79.60]
rh_trend_end = [79.5, 78.95, 78.70, 78.45]
rh_ticks = [81.0, 80.5, 80.0, 79.5, 79.0, 78.5, 78.0, 77.5]
rh_labels = ["", "80.5", "", "79.5", "", "78.5", "", "77.5"]

# ---------------- layout (pixels of the 940 x 1577 page) ----------------
COL_X = [(50.0, 433.0), (521.7, 904.0)]
ROW_Y = [(7.0, 353.3), (400.3, 746.7), (793.3, 1140.0), (1187.0, 1533.3)]
TITLE_X = [26.0, 498.0]
YEAR_RANGE = [1944.9, 2104.8]
VALUE_LABEL_GAP = 29.0   # axis line -> centre of the value labels
YEAR_LABEL_GAP = 24.0    # axis line -> centre of the year labels

PANELS = [
    dict(title="Wind speed [m/s]", series=[wind_hist, wind_rcp26, wind_rcp45, wind_rcp85],
         t0=wind_trend_start, t1=wind_trend_end, ticks=wind_ticks, labels=wind_labels,
         xr=[4.19, 2.836], col=0, row=0),
    dict(title="CO<sub>2</sub> conc [ppm]", series=[co2_hist, co2_rcp26, co2_rcp45, co2_rcp85],
         t0=co2_trend_start, t1=co2_trend_end, ticks=co2_ticks, labels=co2_labels,
         xr=[951.0, 286.0], col=1, row=0),
    dict(title="Precipitation [g/m<sup>2</sup>/h]", series=[prec_hist, prec_rcp26, prec_rcp45, prec_rcp85],
         t0=prec_trend_start, t1=prec_trend_end, ticks=prec_ticks, labels=prec_labels,
         xr=[85.87, 22.18], col=0, row=1),
    dict(title="Longwave rad [W/m<sup>2</sup>]", series=[lw_hist, lw_rcp26, lw_rcp45, lw_rcp85],
         t0=lw_trend_start, t1=lw_trend_end, ticks=lw_ticks, labels=lw_labels,
         xr=[234.47, 174.1], col=1, row=1),
    dict(title="Temperature max [\u00b0C]", series=[tmax_hist, tmax_rcp26, tmax_rcp45, tmax_rcp85],
         t0=tmax_trend_start, t1=tmax_trend_end, ticks=tmax_ticks, labels=tmax_labels,
         xr=[2.41, -13.14], col=0, row=2),
    dict(title="Shortwave rad [W/m<sup>2</sup>]", series=[sw_hist, sw_rcp26, sw_rcp45, sw_rcp85],
         t0=sw_trend_start, t1=sw_trend_end, ticks=sw_ticks, labels=sw_labels,
         xr=[77.94, 59.65], col=1, row=2),
    dict(title="Temperature min [\u00b0C]", series=[tmin_hist, tmin_rcp26, tmin_rcp45, tmin_rcp85],
         t0=tmin_trend_start, t1=tmin_trend_end, ticks=tmin_ticks, labels=tmin_labels,
         xr=[-5.93, -20.93], col=0, row=3),
    dict(title="Rel humidity [%]", series=[rh_hist, rh_rcp26, rh_rcp45, rh_rcp85],
         t0=rh_trend_start, t1=rh_trend_end, ticks=rh_ticks, labels=rh_labels,
         xr=[81.097, 77.49], col=1, row=3),
]


def px_x(px):
    return px / W


def px_y(py):
    return 1 - py / H


fig = go.Figure()
annotations = []
shapes = []
layout = {}

axis_common = dict(
    showline=True, linecolor="black", linewidth=1.4,
    ticks="outside", ticklen=13, tickwidth=1.4, tickcolor="black",
    showgrid=True, gridcolor="#BEBEBE", gridwidth=1.2, griddash="6px,5px",
    zeroline=False, tickmode="array", showticklabels=False,
)

for i, p in enumerate(PANELS, start=1):
    x0, x1 = COL_X[p["col"]]
    y0, y1 = ROW_Y[p["row"]]
    xa, ya = f"x{i}", f"y{i}"
    layout[f"xaxis{i}"] = dict(
        axis_common, domain=[px_x(x0), px_x(x1)], anchor=ya, range=p["xr"],
        tickvals=p["ticks"],
    )
    layout[f"yaxis{i}"] = dict(
        axis_common, domain=[px_y(y1), px_y(y0)], anchor=xa, side="right",
        range=YEAR_RANGE, tickvals=YEAR_TICKS,
    )

    for k, vals in enumerate(p["series"]):
        years = HIST_YEARS if k == 0 else RCP_YEARS
        assert len(vals) == len(years), (p["title"], k, len(vals))
        fig.add_trace(go.Scatter(
            x=vals, y=years, mode="lines",
            line=dict(color=COLORS[k], width=3),
            xaxis=xa, yaxis=ya, showlegend=False, name=SCENARIOS[k],
        ))
    for k in range(4):
        years = HIST_YEARS if k == 0 else RCP_YEARS
        fig.add_trace(go.Scatter(
            x=[p["t0"][k], p["t1"][k]], y=[years[0], years[-1]], mode="lines",
            line=dict(color=COLORS[k], width=3),
            xaxis=xa, yaxis=ya, showlegend=False, name=SCENARIOS[k] + " trend",
        ))

    # value tick labels: upside down under the bottom axis
    for v, lab in zip(p["ticks"], p["labels"]):
        if not lab:
            continue
        annotations.append(dict(
            text=lab, xref=xa, yref="paper", x=v, y=px_y(y1 + VALUE_LABEL_GAP),
            xanchor="center", yanchor="middle", textangle=180, showarrow=False,
            font=dict(family=FONT, size=20.5, color="black"),
        ))
    # year tick labels: reading upwards right of the year axis
    for yr, lab in zip(YEAR_TICKS, YEAR_LABELS):
        if not lab:
            continue
        annotations.append(dict(
            text=lab, xref="paper", yref=ya, x=px_x(x1 + YEAR_LABEL_GAP), y=yr,
            xanchor="center", yanchor="middle", textangle=-90, showarrow=False,
            font=dict(family=FONT, size=18, color="black"),
        ))

    annotations.append(dict(
        text=f"<b>{p['title']}</b>", xref="paper", yref="paper",
        x=px_x(TITLE_X[p["col"]]), y=px_y((y0 + y1) / 2),
        xanchor="center", yanchor="middle", textangle=-90, showarrow=False,
        font=dict(family=FONT, size=26, color="black"),
    ))

# legend box in the bottom-left corner of the Temperature min panel
LEG_BOX = (50.0, 1440.0, 143.3, 1533.3)
LEG_X = [68.3, 86.9, 105.6, 124.3]
LEG_DOT_Y = 1519.5
LEG_TEXT_Y = 1505.0
shapes.append(dict(type="rect", xref="paper", yref="paper",
                   x0=px_x(LEG_BOX[0]), x1=px_x(LEG_BOX[2]),
                   y0=px_y(LEG_BOX[3]), y1=px_y(LEG_BOX[1]),
                   line=dict(color="black", width=1.3), fillcolor="white", layer="above"))
for k, name in enumerate(SCENARIOS):
    r = 2.6
    shapes.append(dict(type="circle", xref="paper", yref="paper",
                       x0=px_x(LEG_X[k] - r), x1=px_x(LEG_X[k] + r),
                       y0=px_y(LEG_DOT_Y + r), y1=px_y(LEG_DOT_Y - r),
                       line=dict(color=COLORS[k], width=1), fillcolor=COLORS[k], layer="above"))
    annotations.append(dict(
        text=name, xref="paper", yref="paper", x=px_x(LEG_X[k]), y=px_y(LEG_TEXT_Y),
        xanchor="center", yanchor="bottom", textangle=-90, showarrow=False,
        font=dict(family=FONT, size=13.5, color="black"),
    ))

fig.update_layout(
    width=W, height=H, margin=dict(l=0, r=0, t=0, b=0),
    paper_bgcolor="white", plot_bgcolor="white",
    showlegend=False, annotations=annotations, shapes=shapes, **layout,
)

# the page body has a default 8px margin; remove it so the figure fills the window
fig.write_html("out.html", config={"displayModeBar": False},
               post_script="document.body.style.margin = '0px';")
